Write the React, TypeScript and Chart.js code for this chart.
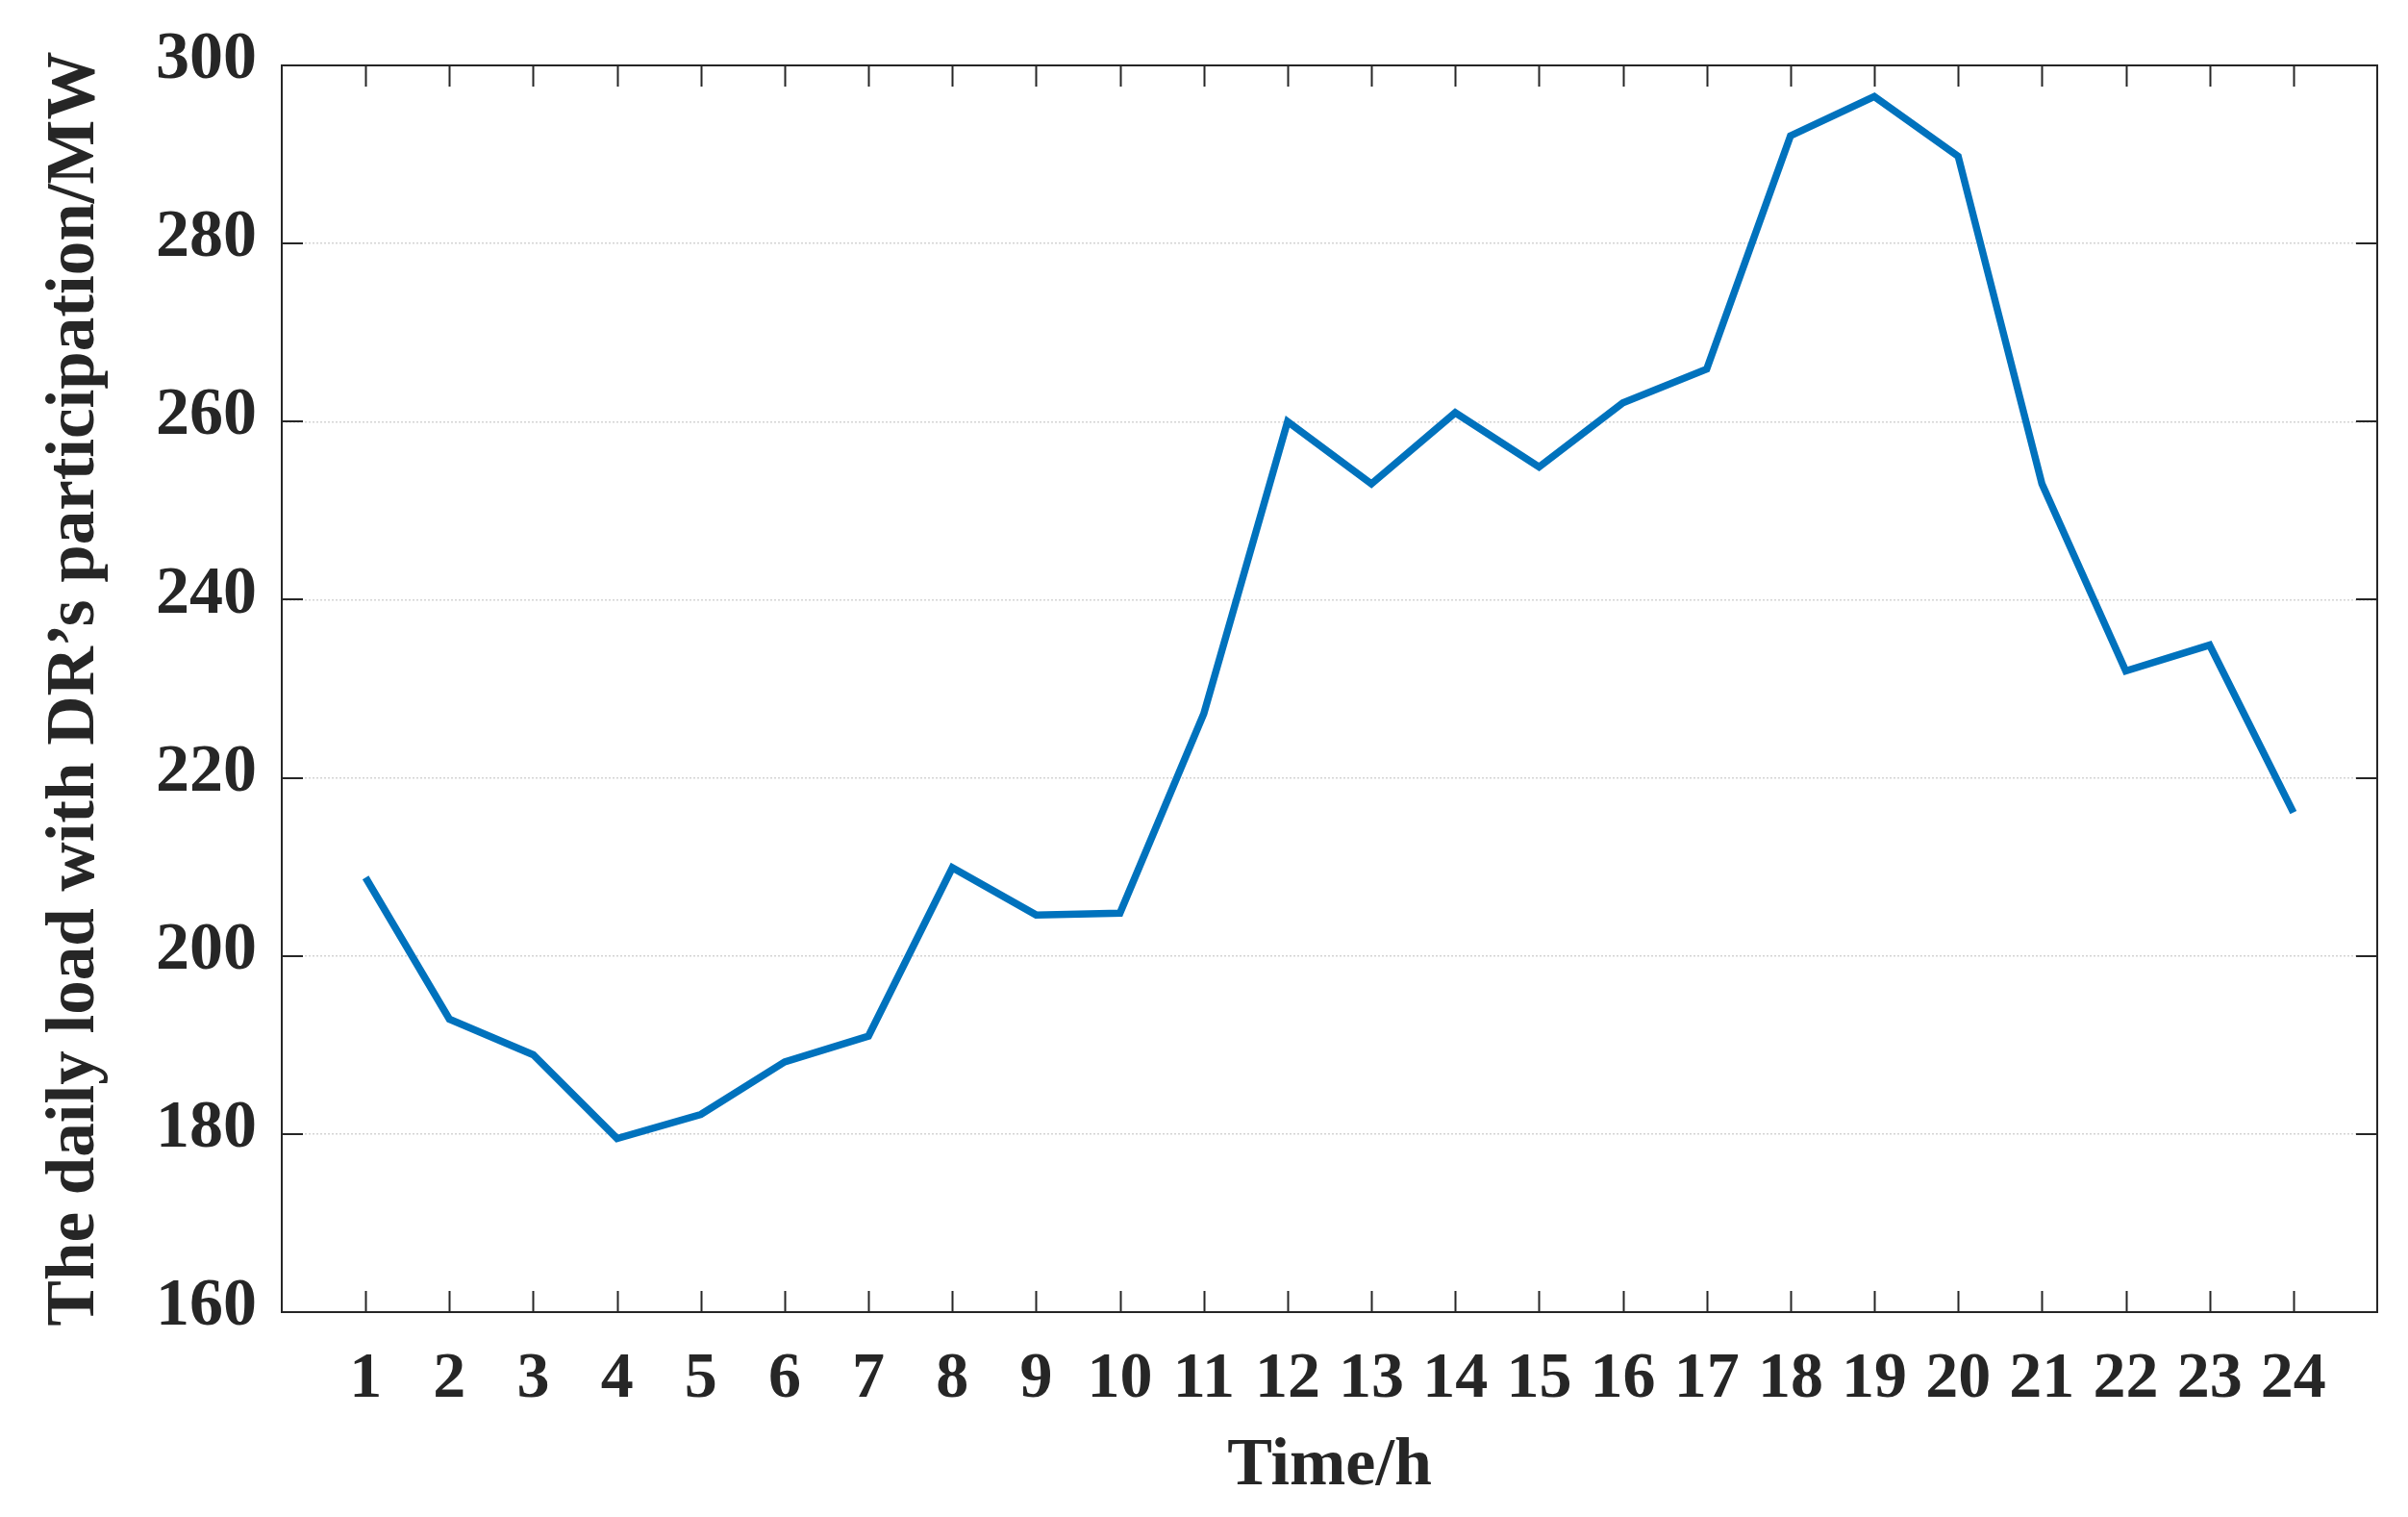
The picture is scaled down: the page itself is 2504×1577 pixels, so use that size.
import React, { useEffect, useRef } from 'react';
import { Chart, registerables } from 'chart.js';

Chart.register(...registerables);

const hours = [1, 2, 3, 4, 5, 6, 7, 8, 9, 10, 11, 12, 13, 14, 15, 16, 17, 18, 19, 20, 21, 22, 23, 24];
const loadWithDR = [
  208.8, 192.9, 188.9, 179.5, 182.2, 188.1, 191.0, 209.9, 204.6, 204.8, 227.2, 260.0,
  253.0, 261.0, 254.9, 262.1, 265.9, 292.1, 296.5, 289.8, 253.0, 232.0, 234.9, 216.1,
];
const yTicks = [160, 180, 200, 220, 240, 260, 280, 300];

const FONT = '"Liberation Serif", "Times New Roman", serif';
const INK = '#262626';

// box round the plot area plus MATLAB-style inward tick marks
const frameTicks = {
  id: 'frameTicks',
  afterDatasetsDraw(chart: any) {
    const { ctx, chartArea: a, scales } = chart;
    const len = 22;
    ctx.save();
    ctx.strokeStyle = INK;
    ctx.lineWidth = 2;
    ctx.beginPath();
    hours.forEach(h => {
      const x = Math.round(scales.x.getPixelForValue(h)) + 0.5;
      ctx.moveTo(x, a.bottom);
      ctx.lineTo(x, a.bottom - len);
      ctx.moveTo(x, a.top);
      ctx.lineTo(x, a.top + len);
    });
    yTicks.forEach(v => {
      const y = Math.round(scales.y.getPixelForValue(v));
      ctx.moveTo(a.left, y);
      ctx.lineTo(a.left + len, y);
      ctx.moveTo(a.right, y);
      ctx.lineTo(a.right - len, y);
    });
    ctx.stroke();
    ctx.strokeRect(a.left, a.top, a.right - a.left, a.bottom - a.top);
    ctx.restore();
  },
};

const LoadChart: React.FC = () => {
  const canvasRef = useRef<HTMLCanvasElement>(null);

  useEffect(() => {
    if (!canvasRef.current) return;
    const chart = new Chart(canvasRef.current, {
      type: 'line',
      data: {
        datasets: [{
          data: hours.map((h, i) => ({ x: h, y: loadWithDR[i] })),
          borderColor: '#0072BD',
          borderWidth: 7.5,
          pointRadius: 0,
          borderJoinStyle: 'miter',
          borderCapStyle: 'butt',
          tension: 0,
        }],
      },
      options: {
        responsive: false,
        animation: false,
        devicePixelRatio: 1,
        layout: { padding: { left: 0, top: 64, right: 32, bottom: 0 } },
        plugins: { legend: { display: false }, tooltip: { enabled: false } },
        scales: {
          x: {
            type: 'linear',
            min: 0,
            max: 25,
            afterBuildTicks: (scale: any) => { scale.ticks = hours.map(h => ({ value: h })); },
            afterFit: (scale: any) => { scale.height = 213; },
            grid: { display: false, drawTicks: false },
            border: { display: false },
            ticks: {
              autoSkip: false,
              maxRotation: 0,
              padding: 30,
              color: INK,
              font: { family: FONT, size: 68, weight: 'bold' },
            },
            title: {
              display: true,
              text: 'Time/h',
              color: INK,
              font: { family: FONT, size: 70, weight: 'bold', lineHeight: 1.2 },
              padding: { top: 0, bottom: 10 },
            },
          },
          y: {
            min: 160,
            max: 300,
            afterBuildTicks: (scale: any) => { scale.ticks = yTicks.map(v => ({ value: v })); },
            afterFit: (scale: any) => { scale.width = 293; },
            grid: { color: '#d4d4d4', lineWidth: 1.5, drawTicks: false },
            border: { display: false, dash: [2, 2] },
            ticks: {
              padding: 26,
              labelOffset: -5,
              color: INK,
              font: { family: FONT, size: 70, weight: 'bold' },
            },
            title: {
              display: true,
              text: 'The daily load with DR\u2019s participation/MW',
              color: INK,
              font: { family: FONT, size: 71, weight: 'bold', lineHeight: 1.2 },
              padding: { top: 36, bottom: 0 },
            },
          },
        },
      },
      plugins: [frameTicks],
    });
    return () => chart.destroy();
  }, []);

  return <canvas ref={canvasRef} width={2504} height={1577} style={{ display: 'block' }} />;
};

export default function App() {
  return (
    <div style={{ position: 'fixed', left: 0, top: 0, width: 2504, height: 1577, background: '#fff' }}>
      <LoadChart />
    </div>
  );
}
